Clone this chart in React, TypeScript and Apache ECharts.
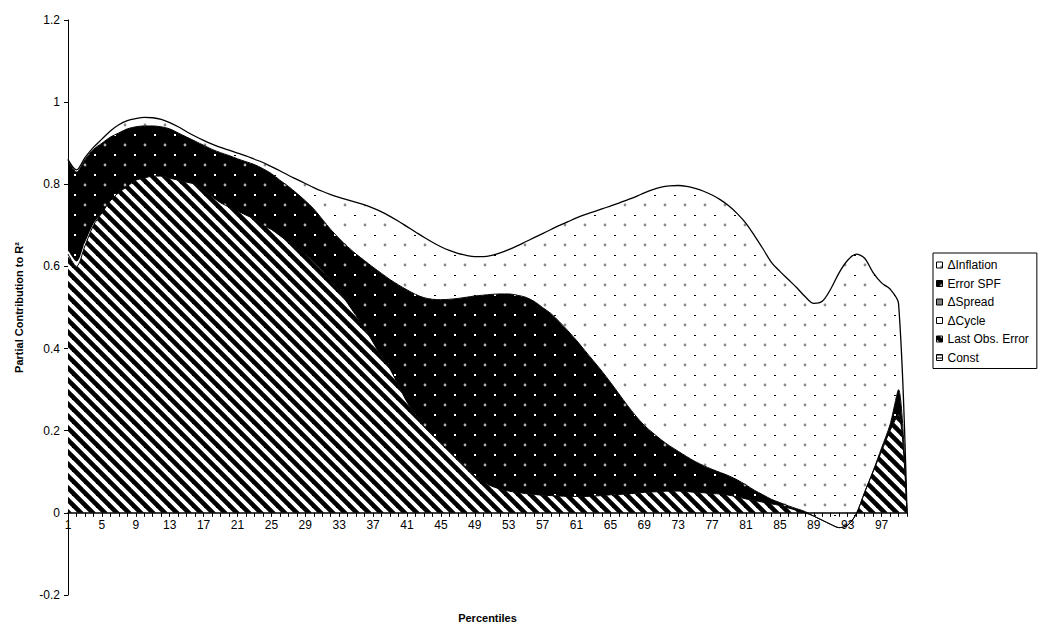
import React, { useEffect, useRef } from "react";
import * as echarts from "echarts";

const categories = [
  "1","2","3","4","5","6","7","8","9","10",
  "11","12","13","14","15","16","17","18","19","20",
  "21","22","23","24","25","26","27","28","29","30",
  "31","32","33","34","35","36","37","38","39","40",
  "41","42","43","44","45","46","47","48","49","50",
  "51","52","53","54","55","56","57","58","59","60",
  "61","62","63","64","65","66","67","68","69","70",
  "71","72","73","74","75","76","77","78","79","80",
  "81","82","83","84","85","86","87","88","89","90",
  "91","92","93","94","95","96","97","98","99","100",
];

const constVals = [
  0,0,0,0,0,0,0,0,0,0, 0,0,0,0,0,0,0,0,0,0,
  0,0,0,0,0,0,0,0,0,0, 0,0,0,0,0,0,0,0,0,0,
  0,0,0,0,0,0,0,0,0,0, 0,0,0,0,0,0,0,0,0,0,
  0,0,0,0,0,0,0,0,0,0, 0,0,0,0,0,0,0,0,0,0,
  0,0,0,0,0,0,0,0,0,0, 0,0,0,0,0,0,0,0,0,0,
];

const lastObsError = [
  0.63, 0.60, 0.65, 0.70, 0.73, 0.76, 0.78, 0.795, 0.81, 0.815,
  0.82, 0.82, 0.815, 0.81, 0.805, 0.80, 0.785, 0.77, 0.755, 0.745,
  0.735, 0.725, 0.715, 0.70, 0.69, 0.675, 0.66, 0.645, 0.63, 0.61,
  0.59, 0.565, 0.54, 0.51, 0.48, 0.45, 0.415, 0.38, 0.35, 0.31,
  0.27, 0.24, 0.21, 0.19, 0.17, 0.15, 0.13, 0.11, 0.09, 0.075,
  0.065, 0.058, 0.053, 0.05, 0.047, 0.045, 0.043, 0.042, 0.041, 0.04,
  0.04, 0.04, 0.041, 0.042, 0.044, 0.045, 0.046, 0.048, 0.05, 0.051,
  0.052, 0.053, 0.053, 0.052, 0.05, 0.049, 0.047, 0.046, 0.043, 0.039,
  0.034, 0.03, 0.026, 0.022, 0.018, 0.012, 0.006, 0.0, -0.008, -0.018,
  -0.028, -0.036, -0.03, -0.003, 0.05, 0.10, 0.15, 0.20, 0.24, 0,
];

const deltaCycle = [
  0.01, 0.012, 0.008, 0.004, 0, 0, 0, 0, 0, 0,
  0,0,0,0,0,0,0,0,0,0, 0,0,0,0,0,0,0,0,0,0,
  0,0,0,0,0,0,0,0,0,0, 0,0,0,0,0,0,0,0,0,0,
  0,0,0,0,0,0,0,0,0,0, 0,0,0,0,0,0,0,0,0,0,
  0,0,0,0,0,0,0,0,0,0, 0,0,0,0,0,0,0,0,0,0,
  0,0,0,0,0,0,0,0,0,0,
];

const deltaSpread = [
  0,0,0,0,0,0,0,0,0,0, 0,0,0,0,0,0,0,0,0,0,
  0,0,0,0,0,0,0,0,0,0, 0,0,0,0,0,0,0,0,0,0,
  0,0,0,0,0,0,0,0,0,0, 0,0,0,0,0,0,0,0,0,0,
  0,0,0,0,0,0,0,0,0,0, 0,0,0,0,0,0,0,0,0,0,
  0,0,0,0,0,0,0,0,0,0, 0,0,0,0,0,0,0,0,0,0,
];

const errorSPF = [
  0.22, 0.218, 0.202, 0.181, 0.17, 0.155, 0.145, 0.14, 0.13, 0.127,
  0.122, 0.12, 0.12, 0.115, 0.11, 0.105, 0.11, 0.115, 0.122, 0.125,
  0.127, 0.13, 0.133, 0.138, 0.136, 0.135, 0.135, 0.133, 0.13, 0.13,
  0.125, 0.125, 0.128, 0.138, 0.15, 0.164, 0.183, 0.203, 0.218, 0.245,
  0.273, 0.292, 0.314, 0.33, 0.349, 0.37, 0.392, 0.415, 0.438, 0.455,
  0.467, 0.475, 0.48, 0.48, 0.478, 0.47, 0.457, 0.443, 0.424, 0.403,
  0.38, 0.355, 0.329, 0.303, 0.274, 0.245, 0.216, 0.188, 0.163, 0.144,
  0.126, 0.11, 0.097, 0.085, 0.075, 0.066, 0.059, 0.052, 0.047, 0.041,
  0.034, 0.025, 0.018, 0.011, 0.007, 0.005, 0.004, 0.003, 0, 0,
  0, 0, 0, 0, 0, 0.002, 0.008, 0.015, 0.06, 0,
];

const deltaInflation = [
  0, 0.005, 0.005, 0.005, 0.01, 0.015, 0.02, 0.02, 0.02, 0.021,
  0.02, 0.018, 0.015, 0.015, 0.013, 0.012, 0.012, 0.013, 0.013, 0.013,
  0.014, 0.014, 0.013, 0.015, 0.017, 0.023, 0.027, 0.034, 0.042, 0.052,
  0.068, 0.085, 0.10, 0.114, 0.126, 0.136, 0.144, 0.15, 0.154, 0.155,
  0.154, 0.152, 0.147, 0.139, 0.129, 0.119, 0.11, 0.102, 0.096, 0.094,
  0.095, 0.10, 0.108, 0.12, 0.135, 0.155, 0.18, 0.205, 0.235, 0.266,
  0.298, 0.331, 0.363, 0.395, 0.429, 0.464, 0.50, 0.534, 0.566, 0.592,
  0.615, 0.633, 0.647, 0.658, 0.665, 0.668, 0.668, 0.664, 0.657, 0.648,
  0.637, 0.62, 0.599, 0.577, 0.563, 0.551, 0.538, 0.523, 0.518, 0.533,
  0.573, 0.621, 0.645, 0.633, 0.57, 0.483, 0.402, 0.33, 0.21, 0,
];

const legendOrder = ["\u0394Inflation", "Error SPF", "\u0394Spread", "\u0394Cycle", "Last Obs. Error", "Const"];

const yMin = -0.2;
const yMax = 1.2;
const yStep = 0.2;

const FONT = "'Liberation Sans', Arial, sans-serif";

function tile(size: number, draw: (g: CanvasRenderingContext2D) => void) {
  const c = document.createElement("canvas");
  c.width = size;
  c.height = size;
  const g = c.getContext("2d") as CanvasRenderingContext2D;
  draw(g);
  return c;
}

export default function App() {
  const ref = useRef<HTMLDivElement>(null);
  useEffect(() => {
    if (!ref.current) return;
    const chart = echarts.init(ref.current, null, { renderer: "svg" });

    const H = 627;
    const grid = { left: 68, right: 139, top: 20, bottom: 32 };
    const plotH = H - grid.top - grid.bottom;
    // distance from the bottom of the plot to the zero line, from the y scale
    const zeroOffset = ((0 - yMin) / (yMax - yMin)) * plotH;

    const stripes = tile(12, (g) => {
      g.fillStyle = "#fff";
      g.fillRect(0, 0, 12, 12);
      g.strokeStyle = "#000";
      g.lineWidth = 4.6;
      for (const o of [-12, 0, 12]) {
        g.beginPath();
        g.moveTo(o - 3, -3);
        g.lineTo(o + 15, 15);
        g.stroke();
      }
    });
    const blackDots = tile(20, (g) => {
      g.fillStyle = "#000";
      g.fillRect(0, 0, 20, 20);
      g.fillStyle = "#b0b0b0";
      g.beginPath();
      g.arc(5, 5, 1.4, 0, Math.PI * 2);
      g.fill();
      g.fillStyle = "#fff";
      g.fillRect(14, 14, 2, 2);
    });
    const lightDots = tile(20, (g) => {
      g.fillStyle = "#fff";
      g.fillRect(0, 0, 20, 20);
      g.fillStyle = "#8a8a8a";
      g.beginPath();
      g.arc(5, 5, 1.4, 0, Math.PI * 2);
      g.fill();
      g.fillStyle = "#000";
      g.fillRect(14, 15, 2, 1);
    });
    const dense = tile(2, (g) => {
      g.fillStyle = "#fff";
      g.fillRect(0, 0, 2, 2);
      g.fillStyle = "#000";
      g.fillRect(0, 0, 1, 1);
      g.fillRect(1, 1, 1, 1);
    });
    const hbars = tile(3, (g) => {
      g.fillStyle = "#fff";
      g.fillRect(0, 0, 3, 3);
      g.fillStyle = "#000";
      g.fillRect(0, 0, 3, 1);
    });

    const pat = (c: HTMLCanvasElement) => ({ image: c, repeat: "repeat" });

    const fills: Record<string, any> = {
      "Const": pat(hbars),
      "Last Obs. Error": pat(stripes),
      "\u0394Cycle": "#fff",
      "\u0394Spread": pat(dense),
      "Error SPF": pat(blackDots),
      "\u0394Inflation": pat(lightDots),
    };

    const mk = (name: string, data: number[], lw: number) => ({
      name,
      type: "line",
      stack: "total",
      stackStrategy: "all",
      data,
      smooth: 0.3,
      showSymbol: false,
      symbol: "none",
      itemStyle: { color: "#000" },
      lineStyle: { color: "#000", width: lw },
      areaStyle: { color: fills[name], opacity: 1 },
      emphasis: { disabled: true },
    });

    const option: any = {
      animation: false,
      backgroundColor: "#fff",
      textStyle: { fontFamily: FONT },
      grid: { ...grid, containLabel: false, outerBoundsMode: "none" },
      legend: {
        orient: "vertical",
        left: 933,
        top: 253,
        padding: [5, 8, 4, 3],
        itemGap: 4.5,
        itemWidth: 6,
        itemHeight: 6,
        icon: "rect",
        borderColor: "#000",
        borderWidth: 1,
        selectedMode: false,
        textStyle: { fontFamily: FONT, fontSize: 12, color: "#000", lineHeight: 14 },
        data: legendOrder.map((n) => ({
          name: n,
          icon: "rect",
          itemStyle: { color: fills[n], borderColor: "#000", borderWidth: 1 },
        })),
      },
      xAxis: {
        type: "category",
        data: categories,
        boundaryGap: false,
        position: "bottom",
        offset: -zeroOffset,
        z: 5,
        name: "Percentiles",
        nameLocation: "middle",
        nameGap: 100,
        nameTextStyle: { fontFamily: FONT, fontSize: 11, fontWeight: "bold", color: "#000" },
        axisLine: { onZero: false, lineStyle: { color: "#000", width: 1.5 } },
        axisTick: { show: true, interval: 0, length: 4, lineStyle: { color: "#000" } },
        axisLabel: {
          interval: 3,
          margin: 6,
          fontFamily: FONT,
          fontSize: 12,
          color: "#000",
          hideOverlap: false,
        },
        splitLine: { show: false },
      },
      yAxis: {
        type: "value",
        min: yMin,
        max: yMax,
        interval: yStep,
        name: "Partial Contribution to R\u00b2",
        nameLocation: "middle",
        nameGap: 44,
        nameTextStyle: { fontFamily: FONT, fontSize: 11, fontWeight: "bold", color: "#000" },
        axisLine: { show: true, lineStyle: { color: "#000", width: 1 } },
        axisTick: { show: true, length: 4, lineStyle: { color: "#000" } },
        axisLabel: { fontFamily: FONT, fontSize: 12, color: "#000", margin: 8 },
        splitLine: { show: false },
      },
      series: [
        mk("Const", constVals, 0),
        mk("Last Obs. Error", lastObsError, 1),
        mk("\u0394Cycle", deltaCycle, 0),
        mk("\u0394Spread", deltaSpread, 0),
        mk("Error SPF", errorSPF, 1),
        mk("\u0394Inflation", deltaInflation, 1.3),
      ],
    };

    chart.setOption(option);
    return () => chart.dispose();
  }, []);

  return (
    <div
      ref={ref}
      style={{ position: "fixed", left: 0, top: 0, width: 1046, height: 627, background: "#fff" }}
    />
  );
}
